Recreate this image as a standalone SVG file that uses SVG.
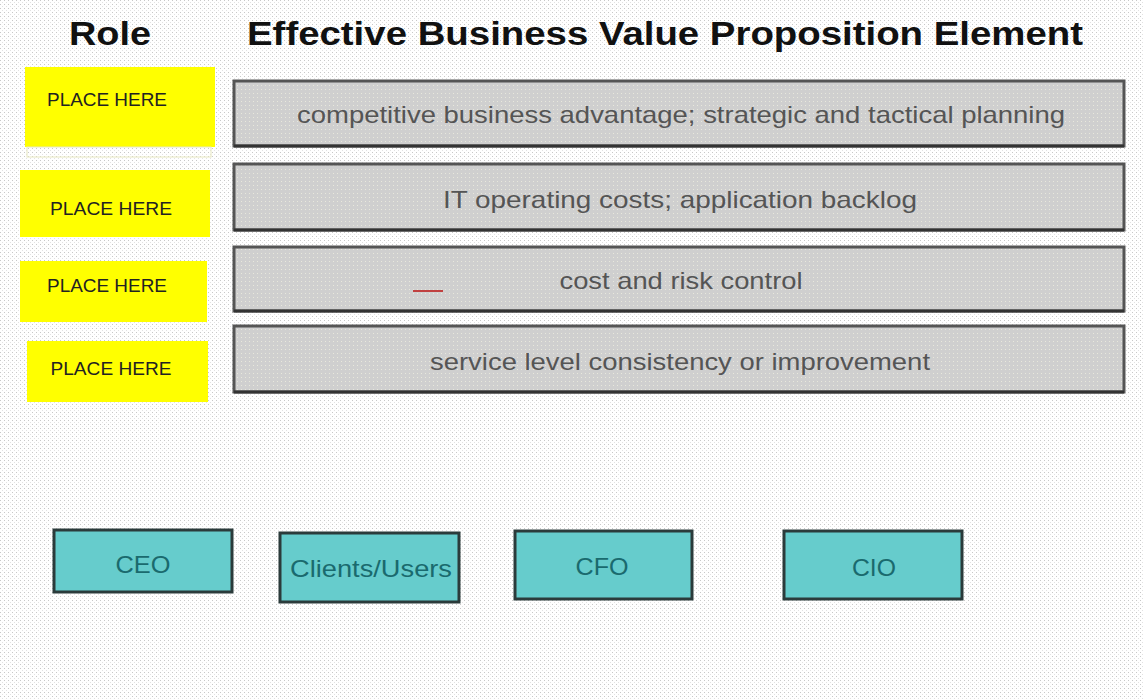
<svg xmlns="http://www.w3.org/2000/svg" width="1144" height="700" viewBox="0 0 1144 700">
<defs>
<pattern id="dots" width="4" height="4" patternUnits="userSpaceOnUse">
<rect x="0" y="0" width="1" height="1" fill="#c8c8c8"/>
<rect x="2" y="2" width="1" height="1" fill="#e2e2e2"/>
</pattern>
<pattern id="gdots" width="4" height="4" patternUnits="userSpaceOnUse">
<rect width="4" height="4" fill="#cfcfcf"/>
<rect x="1" y="1" width="1" height="1" fill="#e8e8dc"/>
</pattern>
</defs>
<style>
.hdr{font-family:"Liberation Sans",Arial,sans-serif;font-weight:bold;font-size:33px;fill:#111}
.place{fill:#ffff00}
.ptxt{font-family:"Liberation Sans",Arial,sans-serif;font-size:18px;fill:#222;text-anchor:middle}
.gbox{fill:url(#gdots);stroke:#555;stroke-width:3}
.gtxt{font-family:"Liberation Sans",Arial,sans-serif;font-size:24px;fill:#555;text-anchor:middle}
.cbox{fill:#66cccc;stroke:#2b3b3b;stroke-width:3}
.ctxt{font-family:"Liberation Sans",Arial,sans-serif;font-size:24px;fill:#1a6a6e;text-anchor:middle}
</style>
<rect width="1144" height="700" fill="#ffffff"/>
<rect width="1144" height="700" fill="url(#dots)"/>
<text class="hdr" x="110" y="45" text-anchor="middle" textLength="82" lengthAdjust="spacingAndGlyphs">Role</text>
<text class="hdr" x="247" y="45" textLength="836" lengthAdjust="spacingAndGlyphs">Effective Business Value Proposition Element</text>
<g id="place1"><rect class="place" x="25" y="67" width="190" height="80"/><rect x="27" y="147" width="184" height="10" fill="none" stroke="#e8e8c0" stroke-width="1"/><text class="ptxt" x="107" y="106" textLength="120" lengthAdjust="spacingAndGlyphs">PLACE HERE</text></g>
<g id="place2"><rect class="place" x="20" y="170" width="190" height="67"/><text class="ptxt" x="111" y="215" textLength="122" lengthAdjust="spacingAndGlyphs">PLACE HERE</text></g>
<g id="place3"><rect class="place" x="20" y="261" width="187" height="61"/><text class="ptxt" x="107" y="292" textLength="120" lengthAdjust="spacingAndGlyphs">PLACE HERE</text></g>
<g id="place4"><rect class="place" x="27" y="341" width="181" height="61"/><text class="ptxt" x="111" y="375" textLength="121" lengthAdjust="spacingAndGlyphs">PLACE HERE</text></g>
<g id="elem1"><rect class="gbox" x="234" y="81" width="890" height="65"/><line x1="234" y1="146" x2="1124" y2="146" stroke="#333" stroke-width="3"/><text class="gtxt" x="681" y="123" textLength="768" lengthAdjust="spacingAndGlyphs">competitive business advantage; strategic and tactical planning</text></g>
<g id="elem2"><rect class="gbox" x="234" y="164" width="890" height="66"/><line x1="234" y1="230" x2="1124" y2="230" stroke="#333" stroke-width="3"/><text class="gtxt" x="680" y="208" textLength="474" lengthAdjust="spacingAndGlyphs">IT operating costs; application backlog</text></g>
<g id="elem3"><rect class="gbox" x="234" y="247" width="890" height="64"/><line x1="234" y1="311" x2="1124" y2="311" stroke="#333" stroke-width="3"/><text class="gtxt" x="681" y="289" textLength="243" lengthAdjust="spacingAndGlyphs">cost and risk control</text><line x1="413" y1="291" x2="443" y2="291" stroke="#c04040" stroke-width="2"/></g>
<g id="elem4"><rect class="gbox" x="234" y="326" width="890" height="66"/><line x1="234" y1="392" x2="1124" y2="392" stroke="#333" stroke-width="3"/><text class="gtxt" x="680" y="370" textLength="500" lengthAdjust="spacingAndGlyphs">service level consistency or improvement</text></g>
<g id="ceo"><rect class="cbox" x="54" y="530" width="178" height="62"/><text class="ctxt" x="143" y="573" textLength="55" lengthAdjust="spacingAndGlyphs">CEO</text></g>
<g id="clients"><rect class="cbox" x="280" y="533" width="179" height="69"/><text class="ctxt" x="371" y="577" textLength="162" lengthAdjust="spacingAndGlyphs">Clients/Users</text></g>
<g id="cfo"><rect class="cbox" x="515" y="531" width="177" height="68"/><text class="ctxt" x="602" y="575" textLength="53" lengthAdjust="spacingAndGlyphs">CFO</text></g>
<g id="cio"><rect class="cbox" x="784" y="531" width="178" height="68"/><text class="ctxt" x="874" y="576" textLength="44" lengthAdjust="spacingAndGlyphs">CIO</text></g>
<g id="connectors"></g>
</svg>
